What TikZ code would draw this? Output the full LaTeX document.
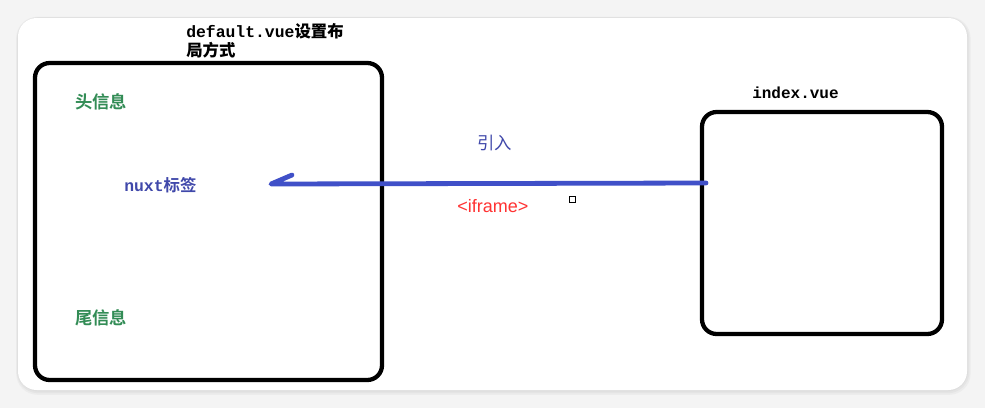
\documentclass[tikz,border=0pt]{standalone}
\usepackage{fontspec}
\setmainfont{Liberation Sans}
\newfontfamily\cjk{Noto Sans CJK SC}
\newfontfamily\cjkb{Noto Sans CJK SC Bold}
\newfontfamily\mono{Liberation Mono}
\definecolor{bg}{RGB}{244,244,244}
\definecolor{gtxt}{RGB}{50,140,85}
\definecolor{btxt}{RGB}{64,72,170}
\definecolor{bline}{RGB}{64,80,200}
\definecolor{rtxt}{RGB}{255,50,50}
\tikzset{
  box/.style={draw=black,line width=3.2pt,rounded corners=11pt},
  lbl/.style={inner sep=0pt,anchor=west},
}
\begin{document}
\begin{tikzpicture}[x=0.75pt,y=-0.75pt]
\fill[bg] (0,0) rectangle (985,408);
\useasboundingbox (0,0) rectangle (985,408);
% card shadow
\foreach \i/\c in {6/236,4/228,2/222}{
  \fill[color={rgb,255:red,\c;green,\c;blue,\c},rounded corners=16pt] (18-\i*0.3,18-\i*0.2) rectangle (967+\i*0.6,390+\i*0.8);
}
\fill[white,rounded corners=14pt] (18,18) rectangle (967,390);
% boxes
\draw[box] (35,63) rectangle (382,380);
\draw[box] (702,112) rectangle (942,334);
% labels
\node[lbl,align=left,font={\mono\bfseries\fontsize{12.3}{15}\selectfont}] (title) at (186,41)
  {default.vue{\cjkb 设置布}\\[-1pt]{\cjkb 局方式}};
\node[lbl,text=gtxt,font={\cjkb\fontsize{13}{15}\selectfont}] (head) at (75,102) {头信息};
\node[lbl,text=btxt,font={\fontsize{12.3}{14}\selectfont}] (nuxt) at (124,185) {{\mono\bfseries nuxt}{\cjkb 标签}};
\node[lbl,text=gtxt,font={\cjkb\fontsize{13}{15}\selectfont}] (tail) at (75,318) {尾信息};
\node[lbl,text=btxt,font={\cjk\fontsize{13}{15}\selectfont}] (yin) at (477,143) {引入};
\node[lbl,text=rtxt,font={\fontsize{13.5}{15}\selectfont}] (iframe) at (457,206) {<iframe>};
\node[lbl,font={\mono\bfseries\fontsize{12}{14}\selectfont}] (idx) at (752,93) {index.vue};
\node[draw=black,line width=0.8pt,minimum size=5pt,inner sep=0pt] (sq) at (572.5,199.5) {};
% connector
\coordinate (lend) at (271,184);
\coordinate (rend) at (706,183);
\coordinate (hook) at (292,175);
\draw[bline,line width=3.6pt,line cap=round,line join=round] (rend) -- (lend) -- (hook);
\end{tikzpicture}
\end{document}
